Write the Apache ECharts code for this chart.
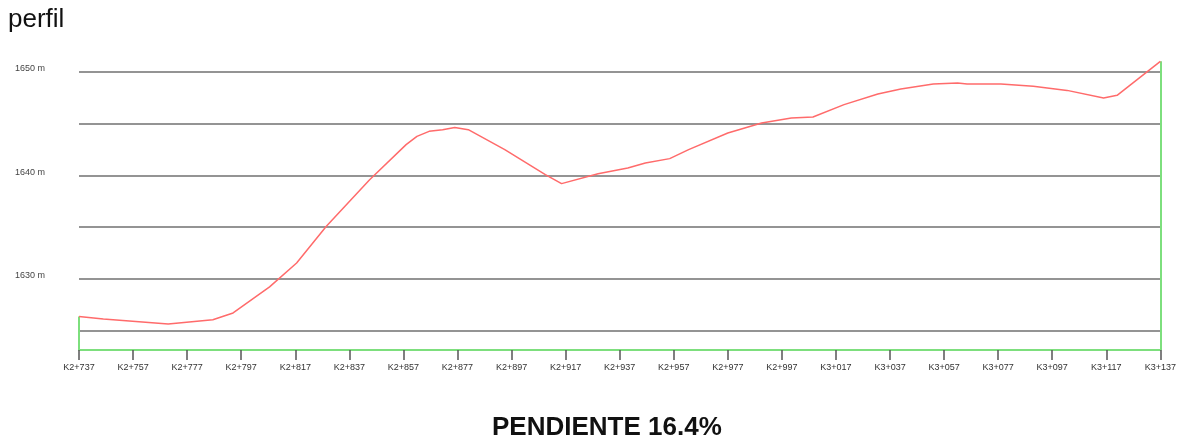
<!DOCTYPE html>
<html>
<head>
<meta charset="utf-8">
<script src="https://cdn.jsdelivr.net/npm/echarts@6/dist/echarts.min.js"></script>
<style>
  html, body { margin: 0; padding: 0; background: #fff; }
  #chart { width: 1179px; height: 443px; }
</style>
</head>
<body>
<div id="chart"></div>
<script>
// distancia desde K2+737 (m) y cota (m)
const distances = [0, 9, 33, 49.5, 57, 70.5, 80.5, 91.5, 107.5, 121, 125, 129.5, 134.5, 139, 144,
  157.5, 172.5, 178.5, 192, 203, 209.5, 218.5, 225.5, 240, 252.5, 263.5, 271.5, 283, 295.5,
  304, 316, 325, 328.5, 341, 353, 365.5, 379, 384, 400];
const elevations = [1626.35, 1626.1, 1625.62, 1626.03, 1626.68, 1629.2, 1631.52, 1635.06, 1639.57,
  1642.96, 1643.76, 1644.25, 1644.41, 1644.63, 1644.41, 1642.48, 1640.06, 1639.19, 1640.15,
  1640.71, 1641.19, 1641.61, 1642.48, 1644.09, 1645.06, 1645.54, 1645.64, 1646.83, 1647.86,
  1648.35, 1648.83, 1648.93, 1648.83, 1648.83, 1648.6, 1648.21, 1647.48, 1647.73, 1651.02];
const tickLabels = ['K2+737', 'K2+757', 'K2+777', 'K2+797', 'K2+817', 'K2+837', 'K2+857',
  'K2+877', 'K2+897', 'K2+917', 'K2+937', 'K2+957', 'K2+977', 'K2+997', 'K3+017', 'K3+037',
  'K3+057', 'K3+077', 'K3+097', 'K3+117', 'K3+137'];
const gridValues = [1625, 1630, 1635, 1640, 1645, 1650];
const labelValues = [1630, 1640, 1650];

const yMin = 1623.1, yMax = 1651.1;
const xMax = 400;
const FONT = '"Liberation Sans", Arial, sans-serif';

const chart = echarts.init(document.getElementById('chart'));

const gridLines = gridValues.map(v => ({
  yAxis: v,
  lineStyle: { color: '#707070', width: 1.5, type: 'solid' }
}));
const greenEdge = { color: '#7ddf7d', width: 2, type: 'solid' };
const edges = [
  [{ coord: [0, elevations[0]], lineStyle: greenEdge }, { coord: [0, yMin] }],
  [{ coord: [xMax, elevations[elevations.length - 1]], lineStyle: greenEdge }, { coord: [xMax, yMin] }]
];

chart.setOption({
  animation: false,
  title: [
    {
      text: 'perfil', left: 8, top: 7, padding: 0,
      textStyle: { fontFamily: FONT, fontSize: 26, fontWeight: 'normal', color: '#111' }
    },
    {
      text: 'PENDIENTE 16.4%', left: 492, top: 415, padding: 0,
      textStyle: { fontFamily: FONT, fontSize: 26, fontWeight: 'bold', color: '#111' }
    }
  ],
  grid: { left: 79, right: 14, top: 60.5, bottom: 93 },
  xAxis: {
    type: 'value', min: 0, max: xMax, interval: 20,
    axisLine: { lineStyle: { color: '#7ddf7d', width: 2 } },
    axisTick: { length: 10, lineStyle: { color: '#555', width: 1.5 } },
    splitLine: { show: false },
    axisLabel: {
      margin: 13, fontSize: 9, color: '#333', fontFamily: FONT,
      formatter: v => tickLabels[Math.round(v / 20)] || ''
    }
  },
  yAxis: {
    type: 'value', min: yMin, max: yMax,
    axisLine: { show: false },
    axisTick: { show: false },
    splitLine: { show: false },
    axisLabel: {
      customValues: labelValues,
      align: 'left', margin: 64, fontSize: 9, color: '#444', fontFamily: FONT,
      verticalAlign: 'bottom', lineHeight: 6,
      formatter: v => v + ' m'
    }
  },
  series: [{
    type: 'line',
    data: distances.map((d, i) => [d, elevations[i]]),
    showSymbol: false,
    lineStyle: { color: '#ff6b6b', width: 1.5 },
    z: 3,
    markLine: {
      silent: true,
      symbol: 'none',
      label: { show: false },
      z: 1,
      data: gridLines.concat(edges)
    }
  }]
});
</script>
</body>
</html>
